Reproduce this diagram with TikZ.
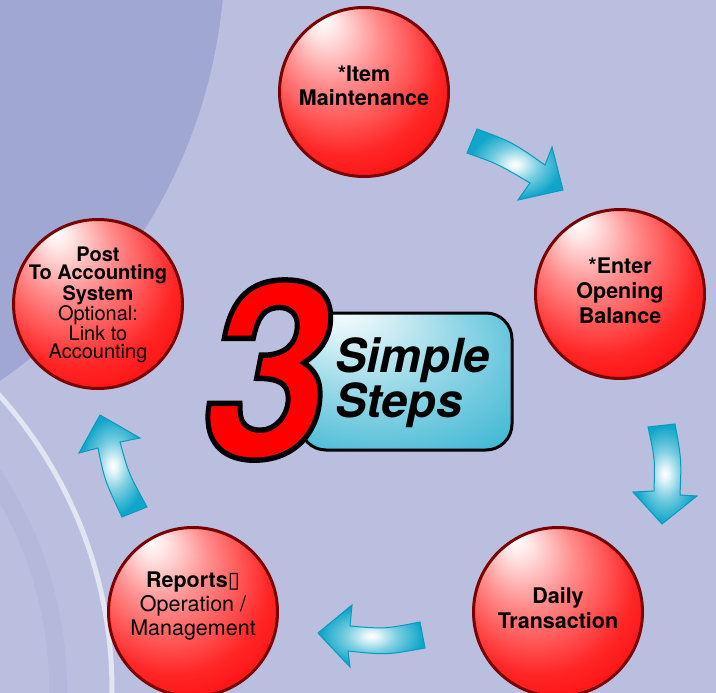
\documentclass[tikz,border=0pt]{standalone}
\usepackage{fontspec}
\setmainfont{TeX Gyre Heros}
\newfontfamily\dejavu{DejaVu Sans}
\newfontfamily\threefont{texgyreheros-bolditalic.otf}[FakeBold=2.2]
\usetikzlibrary{calc}
\definecolor{bglight}{RGB}{187,191,223}
\definecolor{bgdark}{RGB}{159,167,210}
\definecolor{arcwhite}{RGB}{226,229,242}
\definecolor{bandc}{RGB}{180,185,219}
\definecolor{ballred}{RGB}{255,0,0}
\definecolor{rimred}{RGB}{122,0,0}
\definecolor{cyanA}{RGB}{16,166,201}
\definecolor{cyanB}{RGB}{6,154,190}
\pgfdeclareradialshading{redball}{\pgfpoint{-13bp}{22bp}}{color(0bp)=(white); color(4bp)=(white!90!ballred); color(14bp)=(white!55!ballred); color(28bp)=(white!15!ballred); color(40bp)=(ballred); color(50bp)=(ballred)}
\pgfdeclareradialshading{cyanglow}{\pgfpoint{0bp}{0bp}}{color(0bp)=(white); color(3bp)=(white!90!cyanA); color(12bp)=(white!45!cyanA); color(24bp)=(cyanA); color(50bp)=(cyanA)}
\pgfdeclareradialshading{boxglow}{\pgfpoint{-18bp}{30bp}}{color(0bp)=(white); color(6bp)=(white!90!cyanA); color(22bp)=(white!55!cyanA); color(40bp)=(white!20!cyanA); color(50bp)=(cyanA)}
\begin{document}
\begin{tikzpicture}[x=1pt,y=-1pt,
  stepball/.style={circle, minimum size=169pt, inner sep=0pt, draw=rimred, line width=3pt, shade, shading=redball},
  steptext/.style={align=center, inner sep=0pt, text=black, font=\fontsize{21.5}{24}\selectfont},
  blockarrow/.style={draw=cyanB, line width=1pt, line join=miter, shade, shading=cyanglow},
  threestyle/.style={anchor=base, inner sep=0pt, font=\threefont\fontsize{246}{246}\selectfont},
  boxstyle/.style={draw=black, line width=3pt, rounded corners=26pt, minimum width=212pt, minimum height=137pt, inner sep=0pt, shade, shading=boxglow},
  bigword/.style={anchor=base west, inner sep=0pt, text=black, font=\fontsize{47}{47}\selectfont\bfseries\itshape}
]
\useasboundingbox (0,0) rectangle (716,693);
\fill[bglight] (0,0) rectangle (716,693);
\begin{scope}
  \clip (0,0) rectangle (716,693);
  \fill[bgdark] (-300,-50) circle (525pt);
  \draw[bandc, line width=18pt] (-330,690) circle (388pt);
  \draw[arcwhite, line width=5pt] (-330,690) circle (442pt);
\end{scope}

% block arrows
\shadedraw[blockarrow] (477,129) .. controls (512,142) .. (545,165) -- (552,147) -- (563,190) -- (518,200) -- (530,183) .. controls (498,164) .. (467,153) -- cycle;
\shadedraw[blockarrow] (648,427) .. controls (655,459) .. (654,491) -- (633,492) -- (662,524) -- (697,496) -- (680,495) .. controls (681.5,459.5) .. (675,424) -- cycle;
\shadedraw[blockarrow] (420,622) .. controls (385,629) .. (350,626) -- (352,605) -- (318,633) -- (350,667) -- (348,651) .. controls (386.5,655) .. (425,648) -- cycle;
\shadedraw[blockarrow] (122,517) .. controls (104.7,480.5) .. (98,448) -- (79,453) -- (100,415) -- (140,438) -- (120,442) .. controls (128.2,472.5) .. (147,507) -- cycle;

% steps
\node[stepball] (item) at (364,92) {};
\node[stepball] (enter) at (620,294) {};
\node[stepball] (daily) at (558,612) {};
\node[stepball] (reports) at (193,612) {};
\node[stepball] (post) at (98,304) {};

\node[steptext, font=\bfseries\fontsize{21.5}{23.5}\selectfont] (itemtext) at ($(item)+(0,-6)$) {*Item\\Maintenance};
\node[steptext, font=\bfseries\fontsize{21.5}{25}\selectfont] (entertext) at ($(enter)+(0,-3)$) {*Enter\\Opening\\Balance};
\node[steptext, font=\bfseries\fontsize{21.5}{25}\selectfont] (dailytext) at ($(daily)+(0,-4)$) {Daily\\Transaction};
\node[steptext] (reportstext) at ($(reports)+(0,-6)$) {{\bfseries Reports}{\dejavu\fontsize{22}{22}\selectfont ▯}\\Operation /\\Management};
\node[steptext, font=\fontsize{20}{18.5}\selectfont] (posttext) at ($(post)+(0,1)$) {{\bfseries Post}\\{\bfseries To Accounting}\\{\bfseries System}\\Optional:\\Link to\\Accounting};

% 3 Simple Steps
\node[boxstyle] (box) at (406,381.5) {};
\node[threestyle, text=red] (three) at (264,458) {\special{pdf:code 0 0 0 RG}\scalebox{0.92}[1]{3}};
\node[bigword] (simple) at (335,372) {Simple};
\node[bigword] (steps) at (335,417) {Steps};
\end{tikzpicture}
\end{document}
